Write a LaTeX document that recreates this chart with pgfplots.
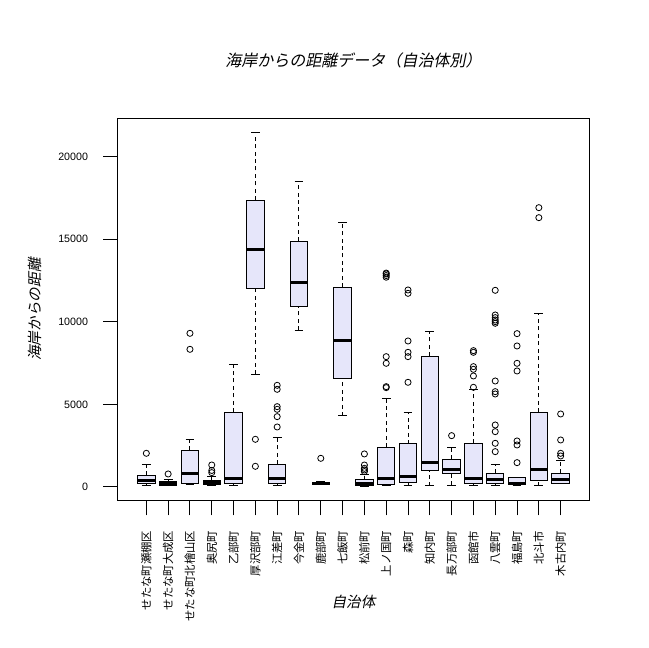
\documentclass[border=0pt]{standalone}
\usepackage{fontspec}
\setmainfont{Liberation Sans}
\newfontfamily\jp{Noto Sans CJK JP}
\newfontfamily\jpit{Noto Sans CJK JP}[FakeSlant=0.2]
\usepackage{pgfplots}
\pgfplotsset{compat=1.18}
\definecolor{lav}{HTML}{E6E6FA}

\pgfplotsset{
  wsk/.style={draw=black, line width=0.75pt, dash pattern=on 3pt off 2.6pt, mark=none},
  cap/.style={draw=black, line width=0.75pt, mark=none},
  boxs/.style={draw=black, fill=lav, line width=0.75pt, mark=none},
  med/.style={draw=black, line width=2.25pt, mark=none},
  ol/.style={only marks, mark=o, mark size=2.3pt, mark options={draw=black, line width=0.6pt}},
}

% one box: position, lower whisker, lower quartile, median, upper quartile, upper whisker
\newcommand{\bxp}[6]{%
  \pgfmathsetmacro\xa{#1-0.4}\pgfmathsetmacro\xb{#1+0.4}%
  \pgfmathsetmacro\xc{#1-0.2}\pgfmathsetmacro\xd{#1+0.2}%
  \edef\tmp{%
    \noexpand\addplot[wsk] coordinates {(#1,#2) (#1,#3)};
    \noexpand\addplot[wsk] coordinates {(#1,#5) (#1,#6)};
    \noexpand\addplot[cap] coordinates {(\xc,#2) (\xd,#2)};
    \noexpand\addplot[cap] coordinates {(\xc,#6) (\xd,#6)};
    \noexpand\addplot[boxs] coordinates {(\xa,#3) (\xb,#3) (\xb,#5) (\xa,#5)} -- cycle;
    \noexpand\addplot[med] coordinates {(\xa,#4) (\xb,#4)};
  }\tmp}

\begin{document}
\begin{tikzpicture}
\useasboundingbox (-88.5pt,-110.5pt) rectangle (398.25pt,375.5pt);
\begin{axis}[
  at={(0,0)}, anchor=south west,
  scale only axis, width=353.25pt, height=286.8pt,
  xmin=-0.3, xmax=21.3, ymin=-829, ymax=22323,
  axis line style={line width=0.75pt},
  tick pos=left, tick align=outside, major tick length=11pt,
  tick style={line width=0.75pt, black},
  xtick={1,...,20},
  xticklabels={せたな町瀬棚区,せたな町大成区,せたな町北檜山区,奥尻町,乙部町,厚沢部町,江差町,今金町,鹿部町,七飯町,松前町,上ノ国町,森町,知内町,長万部町,函館市,八雲町,福島町,北斗市,木古内町},
  xticklabel style={rotate=90, anchor=east, font=\fontsize{8.5}{8.5}\selectfont\jp, xshift=-8pt},
  ytick={0,5000,10000,15000,20000},
  yticklabel style={font=\fontsize{8}{8}\selectfont, xshift=-8pt},
  /pgf/number format/assume math mode=true,
  scaled y ticks=false,
  y tick label style={/pgf/number format/1000 sep={}},
  title={海岸からの距離データ（自治体別）},
  every axis title/.style={at={(0.5,1)}, anchor=center, yshift=43.5pt, font=\fontsize{12}{12}\selectfont\jpit},
  xlabel={自治体},
  every axis x label/.style={at={(0.5,0)}, anchor=center, yshift=-76pt, font=\fontsize{11}{11}\selectfont\jpit},
  ylabel={海岸からの距離},
  every axis y label/.style={at={(0,0.5)}, xshift=-62.25pt, rotate=90, anchor=center, font=\fontsize{11}{11}\selectfont\jpit},
]
\bxp{1}{60}{222}{363}{706}{1372}
\bxp{2}{60}{100}{200}{303}{464}
\bxp{3}{121}{222}{787}{2220}{2886}
\bxp{4}{60}{121}{242}{363}{646}
\bxp{5}{60}{182}{484}{4520}{7426}
\bxp{6}{6821}{12027}{14388}{17355}{21471}
\bxp{7}{60}{222}{484}{1372}{3007}
\bxp{8}{9485}{10938}{12391}{14873}{18505}
\bxp{9}{120}{160}{222}{290}{330}
\bxp{10}{4298}{6538}{8839}{12088}{16003}
\bxp{11}{40}{80}{222}{424}{726}
\bxp{12}{60}{161}{525}{2401}{5368}
\bxp{13}{60}{282}{646}{2603}{4500}
\bxp{14}{60}{969}{1453}{7911}{9424}
\bxp{15}{100}{827}{1029}{1675}{2401}
\bxp{16}{60}{222}{484}{2644}{5872}
\bxp{17}{60}{222}{424}{827}{1372}
\bxp{18}{60}{121}{222}{585}{600}
\bxp{19}{60}{383}{1029}{4520}{10473}
\bxp{20}{182}{222}{424}{827}{1594}
% outliers
\addplot[ol] coordinates {
  (1,2038) (2,787) (3,8334) (3,9303) (4,870) (4,1000) (4,1330)
  (6,1251) (6,2886)
  (7,3632) (7,4258) (7,4702) (7,4863) (7,5913) (7,6155)
  (9,1735)
  (11,930) (11,1030) (11,1130) (11,1330) (11,2000)
  (12,6014) (12,6074) (12,7487) (12,7890) (12,12700) (12,12800) (12,12900) (12,12950)
  (13,6337) (13,7890) (13,8153) (13,8839) (13,11724) (13,11926)
  (15,3108)
  (16,6034) (16,6720) (16,7124) (16,7285) (16,8153) (16,8254)
  (17,2139) (17,2644) (17,3350) (17,3753) (17,5630) (17,5771) (17,6417)
  (17,9911) (17,10010) (17,10110) (17,10252) (17,10413) (17,11906)
  (18,1473) (18,2543) (18,2785) (18,7023) (18,7487) (18,8536) (18,9283)
  (19,16305) (19,16910)
  (20,1877) (20,2038) (20,2845) (20,4419)
};
\end{axis}
\end{tikzpicture}
\end{document}
